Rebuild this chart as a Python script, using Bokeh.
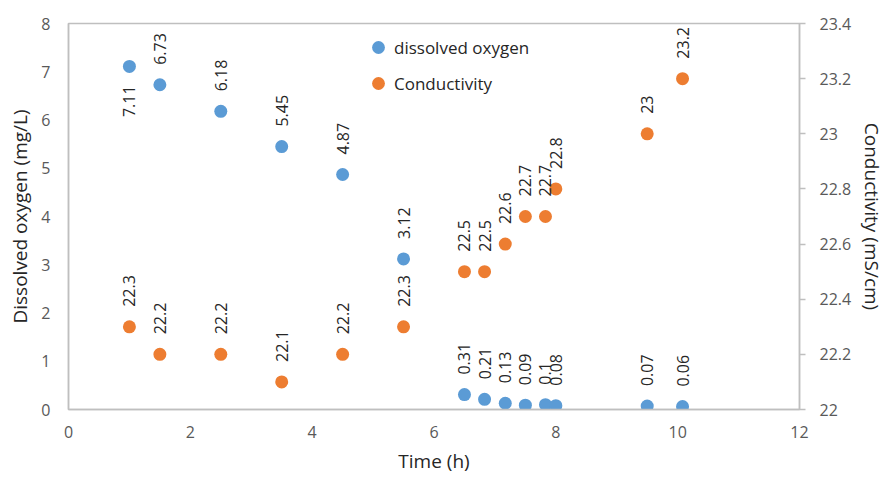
from bokeh.plotting import figure
from bokeh.models import (Range1d, LinearAxis, FixedTicker, CustomJSTickFormatter,
                          ColumnDataSource, Legend, LegendItem)
from bokeh.core.properties import value
from bokeh.embed import file_html
from bokeh.resources import INLINE
import math

# ---- data ----
time_h = [1, 1.5, 2.5, 3.5, 4.5, 5.5, 6.5, 6.83, 7.17, 7.5, 7.83, 8, 9.5, 10.08]
dissolved_oxygen = [7.11, 6.73, 6.18, 5.45, 4.87, 3.12, 0.31, 0.21, 0.13, 0.09, 0.1, 0.08, 0.07, 0.06]
conductivity = [22.3, 22.2, 22.2, 22.1, 22.2, 22.3, 22.5, 22.5, 22.6, 22.7, 22.7, 22.8, 23, 23.2]
x_ticks = [0, 2, 4, 6, 8, 10, 12]
do_ticks = [0, 1, 2, 3, 4, 5, 6, 7, 8]
cond_ticks = [22, 22.2, 22.4, 22.6, 22.8, 23, 23.2, 23.4]

BLUE = "#5B9BD5"
ORANGE = "#ED7D31"
FONT = "Open Sans"
AXIS_COL = "#BFBFBF"


def fmt(v):
    return "%g" % v


do_labels = [fmt(v) for v in dissolved_oxygen]
cond_labels = [fmt(v) for v in conductivity]
# first DO label sits below its point, the rest above
do_align = ["right" if i == 0 else "left" for i in range(len(dissolved_oxygen))]
do_off = [19 if i == 0 else -20 for i in range(len(dissolved_oxygen))]

do_src = ColumnDataSource(dict(x=time_h, y=dissolved_oxygen, t=do_labels, a=do_align, o=do_off))
cond_src = ColumnDataSource(dict(x=time_h, y=conductivity, t=cond_labels))

p = figure(width=888, height=477, output_backend="svg", toolbar_location=None,
           x_range=Range1d(0, 12), y_range=Range1d(0, 8),
           min_border_left=68, min_border_right=88, min_border_top=23, min_border_bottom=68)
p.extra_y_ranges = {"cond": Range1d(22, 23.4)}

p.xgrid.visible = False
p.ygrid.visible = False
p.outline_line_color = AXIS_COL
p.outline_line_width = 1.5
p.background_fill_color = "white"
p.border_fill_color = "white"

xa = p.xaxis[0]
xa.ticker = FixedTicker(ticks=x_ticks)
xa.axis_label = "Time (h)"
ya = p.yaxis[0]
ya.ticker = FixedTicker(ticks=do_ticks)
ya.axis_label = "Dissolved oxygen (mg/L)"
yr = LinearAxis(y_range_name="cond", axis_label="Conductivity (mS/cm)",
                ticker=FixedTicker(ticks=cond_ticks),
                formatter=CustomJSTickFormatter(code="return String(Number(tick.toFixed(1)));"))
p.add_layout(yr, "right")

for ax in [xa, ya]:
    ax.major_tick_line_color = None
    ax.minor_tick_line_color = None
    ax.major_tick_out = 0
    ax.axis_line_color = AXIS_COL
    ax.axis_line_width = 1.5
yr.major_tick_line_color = AXIS_COL
yr.major_tick_line_width = 1.5
yr.major_tick_out = 6
yr.major_tick_in = 0
yr.minor_tick_line_color = None
yr.axis_line_color = AXIS_COL
yr.axis_line_width = 1.5

for ax in [xa, ya, yr]:
    ax.major_label_text_font = FONT
    ax.major_label_text_font_size = "16px"
    ax.major_label_text_color = "#595959"
    ax.axis_label_text_font = FONT
    ax.axis_label_text_font_size = "19px"
    ax.axis_label_text_font_style = "normal"
    ax.axis_label_text_color = "#262626"

xa.major_label_standoff = 16
xa.axis_label_standoff = 7
ya.major_label_standoff = 18
ya.axis_label_standoff = 5
yr.major_label_standoff = 14
yr.axis_label_standoff = 5

r_do = p.scatter("x", "y", source=do_src, size=13, color=BLUE, line_color=None)
r_cond = p.scatter("x", "y", source=cond_src, size=13, color=ORANGE, line_color=None,
                   y_range_name="cond")

p.text("x", "y", text="t", source=do_src, angle=math.pi / 2, text_align="a",
       text_baseline="middle", y_offset="o", text_font=value(FONT),
       text_font_size="16px", text_color="#262626")
p.text("x", "y", text="t", source=cond_src, angle=math.pi / 2, text_align="left",
       text_baseline="middle", y_offset=-20, text_font=value(FONT),
       text_font_size="16px", text_color="#262626", y_range_name="cond")

legend = Legend(items=[LegendItem(label="dissolved oxygen", renderers=[r_do]),
                       LegendItem(label="Conductivity", renderers=[r_cond])],
                location=(294, 310), border_line_alpha=0, background_fill_alpha=0,
                padding=0, margin=0, spacing=4, label_height=32, glyph_height=32,
                glyph_width=32, label_standoff=-4,
                label_text_font=FONT, label_text_font_size="17px",
                label_text_color="#262626")
p.add_layout(legend)

open("out.html", "w").write(file_html(p, INLINE))
